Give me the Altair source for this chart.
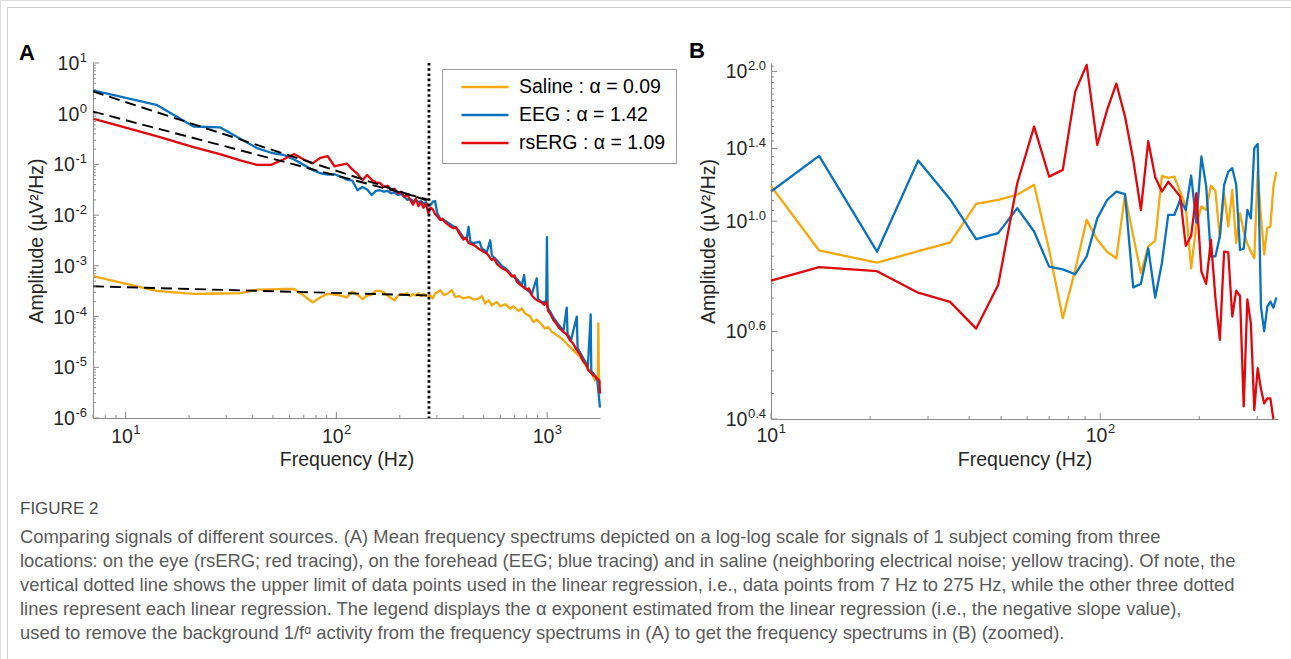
import altair as alt
import pandas as pd

FONT = "Liberation Sans"
TXT = "#262626"
AXC = "#8a8a8a"

# ---------------- series identity ----------------
names = ["Saline", "EEG", "rsERG"]
alphas = [0.09, 1.42, 1.09]
colors = ["#F6A80D", "#0A72BD", "#E0070D"]
line_w = [2.3, 2.3, 4.0]
labels = [f"{n} : α = {a:.2f}" for n, a in zip(names, alphas)]

# ---------------- Panel A : spectra (7 Hz bins up to 280 Hz) ----------------
a_bins = list(range(7, 281, 7))
a_saline_low = [6.3e-4, 3.2e-4, 2.8e-4, 2.85e-4, 2.9e-4, 3.4e-4, 3.45e-4, 3.5e-4, 3.5e-4, 2.6e-4,
                1.9e-4, 2.4e-4, 2.8e-4, 2.7e-4, 2.6e-4, 2.4e-4, 3.1e-4, 2.7e-4, 2.2e-4, 2.6e-4,
                2.7e-4, 3.2e-4, 3.2e-4, 3.0e-4, 2.6e-4, 2.3e-4, 2.1e-4, 2.6e-4, 2.8e-4, 2.7e-4,
                2.9e-4, 2.5e-4, 2.8e-4, 2.6e-4, 2.9e-4, 2.5e-4, 2.8e-4, 2.6e-4, 2.5e-4, 2.6e-4]
a_eeg_low = [2.9, 1.5, 0.56, 0.54, 0.32, 0.21, 0.17, 0.155, 0.125, 0.098,
             0.078, 0.067, 0.063, 0.064, 0.057, 0.050, 0.048, 0.031, 0.036, 0.032,
             0.025, 0.030, 0.031, 0.029, 0.030, 0.027, 0.028, 0.025, 0.026, 0.023,
             0.020, 0.021, 0.019, 0.020, 0.018, 0.019, 0.017, 0.018, 0.015, 0.016]
a_rserg_low = [0.80, 0.36, 0.22, 0.16, 0.12, 0.098, 0.098, 0.125, 0.16, 0.125,
               0.105, 0.135, 0.145, 0.092, 0.098, 0.104, 0.080, 0.065, 0.049, 0.062,
               0.050, 0.044, 0.043, 0.036, 0.038, 0.031, 0.033, 0.027, 0.029, 0.023,
               0.025, 0.020, 0.016, 0.021, 0.015, 0.018, 0.014, 0.017, 0.011, 0.014]

# above 280 Hz (selected readings)
a_saline_hf = [287, 294, 301, 311, 325, 337, 353, 366, 384, 401, 424, 447, 472, 490, 508, 527, 547, 577,
               599, 632, 668, 692, 731, 759, 787, 830, 861, 893, 933, 977, 1014, 1052, 1111, 1173, 1239,
               1333, 1433, 1541, 1629, 1688, 1740, 1750, 1762, 1782]
a_saline_hv = [2.3e-4, 2.84e-4, 3.0e-4, 3.31e-4, 2.64e-4, 2.84e-4, 3.31e-4, 2.45e-4, 2.52e-4, 2.27e-4,
               2.45e-4, 2.17e-4, 2.27e-4, 2.52e-4, 1.81e-4, 2.1e-4, 1.67e-4, 1.95e-4, 1.6e-4, 1.75e-4,
               1.44e-4, 1.6e-4, 1.29e-4, 1.44e-4, 1.15e-4, 1.01e-4, 7.8e-5, 8.7e-5, 7.3e-5, 5.8e-5,
               6.2e-5, 5.0e-5, 4.3e-5, 3.7e-5, 2.9e-5, 2.16e-5, 1.6e-5, 1.01e-5, 7.5e-6, 5.5e-6,
               6.0e-6, 7.3e-5, 5.5e-6, 4.7e-6]
a_eeg_hf = [287, 294, 301, 311, 328, 347, 360, 380, 401, 415, 424, 432, 447, 478, 490, 518, 537, 547, 577,
            610, 644, 680, 718, 759, 778, 790, 846, 893, 905, 950, 990, 998, 1006, 1040, 1072, 1132, 1195,
            1239, 1250, 1300, 1383, 1395, 1450, 1500, 1560, 1610, 1620, 1680, 1730, 1782]
a_eeg_hv = [0.0185, 0.019, 0.011, 0.0085, 0.0078, 0.0066, 0.0060, 0.0050, 0.0036, 0.0034,
            0.0059, 0.0030, 0.0028, 0.0030, 0.0022, 0.0019, 0.0032, 0.0016, 0.0013, 0.0010,
            8.5e-4, 6.5e-4, 5.5e-4, 4.3e-4, 6.6e-4, 3.6e-4, 2.8e-4, 5.7e-4, 2.2e-4, 1.9e-4,
            2.0e-4, 3.7e-3, 1.5e-4, 1.2e-4, 9.5e-5, 7.0e-5, 5.2e-5, 1.5e-4, 4.5e-5, 3.5e-5,
            1.0e-4, 2.4e-5, 1.8e-5, 1.4e-5, 1.0e-5, 1.1e-4, 8.5e-6, 7.0e-6, 5.5e-6, 1.6e-6]
a_rserg_hf = [287, 294, 301, 311, 318, 328, 347, 360, 370, 380, 401, 412, 424, 447, 460, 472, 499, 518,
              547, 560, 577, 610, 644, 680, 700, 718, 759, 801, 820, 846, 893, 943, 970, 996, 1010, 1033,
              1072, 1100, 1132, 1195, 1240, 1285, 1330, 1381, 1430, 1486, 1530, 1570, 1620, 1657, 1700,
              1740, 1770, 1782]
a_rserg_hv = [0.013, 0.0105, 0.0095, 0.0080, 0.0085, 0.0072, 0.0060, 0.0055, 0.0058, 0.0046,
              0.0033, 0.0036, 0.0028, 0.0026, 0.0024, 0.0022, 0.0019, 0.00175, 0.0013, 0.0014,
              0.0011, 9.0e-4, 8.0e-4, 6.2e-4, 6.5e-4, 4.9e-4, 4.0e-4, 3.4e-4, 3.6e-4, 2.6e-4,
              2.1e-4, 1.9e-4, 1.7e-4, 1.95e-4, 1.3e-4, 1.15e-4, 8.5e-5, 7.5e-5, 6.2e-5, 5.0e-5,
              4.4e-5, 3.4e-5, 2.9e-5, 2.2e-5, 1.8e-5, 1.3e-5, 1.15e-5, 8.7e-6, 7.8e-6, 6.9e-6,
              6.6e-6, 5.8e-6, 5.5e-6, 3.0e-6]

# regression lines (7 Hz -> 275 Hz) and the regression limit
fit_f = [7, 275]
fit_saline = [3.95e-4, 2.6e-4]
fit_eeg = [2.75, 0.019]
fit_rserg = [1.1, 0.020]
reg_limit = 275

# ---------------- Panel B : 1/f-removed spectra (exponent values) ----------------
b_f = [10] + list(range(14, 344, 7))
b_saline = [1.177, 0.873, 0.825, 0.870, 0.905, 1.083, 1.103, 1.130, 1.183, 0.875,
            0.638, 0.798, 1.006, 0.917, 0.868, 0.842, 1.130, 0.934, 0.786, 0.889,
            0.914, 1.233, 1.222, 1.229, 1.147, 1.070, 0.804, 0.983, 1.070, 1.053,
            1.178, 1.151, 0.924, 1.138, 0.975, 1.156, 0.903, 1.037, 0.953, 0.900,
            0.868, 0.842, 1.257, 1.021, 0.857, 0.970, 0.975, 1.174, 1.257]
b_eeg = [1.147, 1.353, 0.868, 1.324, 1.107, 0.920, 0.946, 1.062, 0.953, 0.810,
         0.800, 0.782, 0.849, 1.013, 1.103, 1.147, 1.133, 0.736, 0.748, 0.882,
         0.702, 0.823, 1.029, 1.029, 1.103, 1.053, 1.234, 0.993, 1.349, 1.174,
         0.849, 0.850, 0.931, 1.183, 1.257, 1.278, 1.183, 0.875, 0.880, 1.053,
         1.013, 1.402, 1.430, 0.673, 0.601, 0.673, 0.689, 0.670, 0.702]
b_rserg = [0.759, 0.808, 0.793, 0.718, 0.688, 0.608, 0.744, 1.192, 1.549, 1.229,
           1.268, 1.822, 2.062, 1.424, 1.674, 1.891, 1.623, 1.33, 1.053, 1.448,
           1.226, 1.147, 1.200, 1.16, 1.121, 0.892, 0.934, 1.138, 0.792, 0.748,
           0.917, 0.70, 0.577, 0.868, 0.865, 0.643, 0.725, 0.707, 0.424, 0.696,
           0.623, 0.417, 0.506, 0.46, 0.43, 0.44, 0.44, 0.40]

# ---------------- axis tick labels ----------------
ya_vals = [10, 1, 0.1, 0.01, 1e-3, 1e-4, 1e-5, 1e-6]
ya_exps = ["1", "0", "-1", "-2", "-3", "-4", "-5", "-6"]
xa_vals = [10, 100, 1000]
xa_exps = ["1", "2", "3"]
yb_vals = [2.0, 1.4, 1.0, 0.6, 0.4]
yb_exps = ["2.0", "1.4", "1.0", "0.6", "0.4"]
xb_vals = [10, 100]
xb_exps = ["1", "2"]

caption_title = "FIGURE 2"
caption_lines = [
    "Comparing signals of different sources. (A) Mean frequency spectrums depicted on a log-log scale for signals of 1 subject coming from three",
    "locations: on the eye (rsERG; red tracing), on the forehead (EEG; blue tracing) and in saline (neighboring electrical noise; yellow tracing). Of note, the",
    "vertical dotted line shows the upper limit of data points used in the linear regression, i.e., data points from 7 Hz to 275 Hz, while the other three dotted",
    "lines represent each linear regression. The legend displays the α exponent estimated from the linear regression (i.e., the negative slope value),",
    "used to remove the background 1/fᵅ activity from the frequency spectrums in (A) to get the frequency spectrums in (B) (zoomed).",
]

# ====================================================================
BASE_FS = 19.5
EXP_FS = 13
CW = {"-": 0.333, ".": 0.278}


def exp_width(s, fs=EXP_FS):
    return sum(CW.get(c, 0.556) for c in s) * fs


color_scale = alt.Scale(domain=labels, range=colors)
sw_scale = alt.Scale(domain=labels, range=line_w)
leg = alt.Legend(orient="none", legendX=442, legendY=69, title=None, direction="vertical",
                 labelFont=FONT, labelFontSize=BASE_FS, labelColor="black", labelLimit=400,
                 symbolType="stroke", symbolSize=2209, symbolOffset=8, labelOffset=9,
                 padding=10, strokeColor="#9a9a9a", fillColor="white", rowPadding=8,
                 clipHeight=16, cornerRadius=0)


def make_panel(series_frames, xs, ys, xax, yax, extra_layers_fn):
    layers = []
    for df in series_frames:
        layers.append(
            alt.Chart(df).mark_line(strokeJoin="round", strokeCap="butt").encode(
                x=alt.X("f:Q", scale=xs, axis=xax),
                y=alt.Y("a:Q", scale=ys, axis=yax),
                color=alt.Color("series:N", scale=color_scale, legend=leg),
                strokeWidth=alt.StrokeWidth("series:N", scale=sw_scale, legend=leg),
            )
        )
    layers += extra_layers_fn(xs, ys, xax, yax)
    return alt.layer(*layers)


def tick_layers(xs, ys, xax, yax, xmaj, xmin, ymaj, ymin, x0, y0):
    out = []
    for vals, ln in ((ymaj, 6), (ymin, 3)):
        out.append(alt.Chart(pd.DataFrame({"a": vals})).mark_rule(color=AXC, strokeWidth=1).encode(
            y=alt.Y("a:Q", scale=ys, axis=yax), x=alt.value(x0), x2=alt.value(x0 + ln)))
    for vals, ln in ((xmaj, 6), (xmin, 3)):
        out.append(alt.Chart(pd.DataFrame({"f": vals})).mark_rule(color=AXC, strokeWidth=1).encode(
            x=alt.X("f:Q", scale=xs, axis=xax), y=alt.value(y0), y2=alt.value(y0 - ln)))
    return out


def label_layers(xs, ys, xax, yax, yvals, yexps, y_right, xvals, xexps, x_base_y, x_exp_y):
    out = []
    dfy = pd.DataFrame({"a": yvals, "exp": yexps, "base": ["10"] * len(yvals),
                        "n": [len(e) for e in yexps]})
    for n in sorted(set(dfy["n"])):
        sample = [e for e in yexps if len(e) == n][0]
        w = exp_width(sample)
        out.append(alt.Chart(dfy).transform_filter(alt.datum.n == n).mark_text(
            align="right", baseline="alphabetic", font=FONT, fontSize=BASE_FS, color=TXT, dy=7).encode(
            y=alt.Y("a:Q", scale=ys, axis=yax), x=alt.value(y_right - w - 0.5), text="base:N"))
    out.append(alt.Chart(dfy).mark_text(
        align="right", baseline="alphabetic", font=FONT, fontSize=EXP_FS, color=TXT, dy=-1).encode(
        y=alt.Y("a:Q", scale=ys, axis=yax), x=alt.value(y_right), text="exp:N"))
    dfx = pd.DataFrame({"f": xvals, "exp": xexps, "base": ["10"] * len(xvals)})
    w = exp_width(xexps[0])
    bw = 2 * 0.556 * BASE_FS
    shift = (bw + w) / 2 - w
    out.append(alt.Chart(dfx).mark_text(
        align="right", baseline="alphabetic", font=FONT, fontSize=BASE_FS, color=TXT, dx=shift).encode(
        x=alt.X("f:Q", scale=xs, axis=xax), y=alt.value(x_base_y), text="base:N"))
    out.append(alt.Chart(dfx).mark_text(
        align="left", baseline="alphabetic", font=FONT, fontSize=EXP_FS, color=TXT, dx=shift + 0.5).encode(
        x=alt.X("f:Q", scale=xs, axis=xax), y=alt.value(x_exp_y), text="exp:N"))
    return out


def axis(orient, offset, title, tx=None, ty=None):
    kw = dict(orient=orient, offset=offset, labels=False, ticks=False, grid=False,
              domainColor=AXC, domainWidth=1, title=title, titleFont=FONT,
              titleFontSize=BASE_FS, titleFontWeight="normal", titleColor=TXT,
              titleBaseline="alphabetic")
    if tx is not None:
        kw["titleX"] = tx
        kw["titleAngle"] = 270
    if ty is not None:
        kw["titleY"] = ty
    return alt.Axis(**kw)


W, H = 1291, 659

# ---------------- Panel A ----------------
A_X0, A_X1, A_Y0, A_Y1 = 93, 600, 63, 418
xA = alt.Scale(type="log", domain=[7, 1782], range=[A_X0, A_X1], nice=False)
yA = alt.Scale(type="log", domain=[1e-6, 10], range=[A_Y1, A_Y0], nice=False)
axA_x = axis("bottom", A_Y1 - H, "Frequency (Hz)", ty=47)
axA_y = axis("left", -A_X0, "Amplitude (µV²/Hz)", tx=-51)

dfA = []
for lab, lo, hf, hv in ((labels[0], a_saline_low, a_saline_hf, a_saline_hv),
                        (labels[1], a_eeg_low, a_eeg_hf, a_eeg_hv),
                        (labels[2], a_rserg_low, a_rserg_hf, a_rserg_hv)):
    dfA.append(pd.DataFrame({"f": a_bins + hf, "a": lo + hv, "series": lab}))

fit_df = pd.concat([pd.DataFrame({"f": fit_f, "a": v, "fit": n})
                    for n, v in zip(names, (fit_saline, fit_eeg, fit_rserg))])

a_xmaj = [10, 100, 1000]
a_xmin = [m * 10 ** k for k in range(0, 4) for m in range(2, 10) if 7 <= m * 10 ** k <= 1782]
a_ymaj = ya_vals
a_ymin = [m * 10.0 ** k for k in range(-6, 1) for m in range(2, 10)]


def extras_A(xs, ys, xax, yax):
    out = [
        alt.Chart(fit_df).mark_line(color="black", strokeDash=[11, 6], strokeWidth=1.9).encode(
            x=alt.X("f:Q", scale=xs, axis=xax), y=alt.Y("a:Q", scale=ys, axis=yax), detail="fit:N"),
        alt.Chart(pd.DataFrame({"f": [reg_limit], "a": [10], "a2": [1e-6]})).mark_rule(
            color="black", strokeWidth=2.8, strokeDash=[2.6, 2.6]).encode(
            x=alt.X("f:Q", scale=xs, axis=xax), y=alt.Y("a:Q", scale=ys, axis=yax), y2="a2:Q"),
    ]
    out += tick_layers(xs, ys, xax, yax, a_xmaj, a_xmin, a_ymaj, a_ymin, A_X0, A_Y1)
    out += label_layers(xs, ys, xax, yax, ya_vals, ya_exps, 87, xa_vals, xa_exps, 443, 434)
    return out


panelA = make_panel(dfA, xA, yA, axA_x, axA_y, extras_A)

# ---------------- Panel B ----------------
B_X0, B_X1, B_Y0, B_Y1 = 771, 1278, 63, 419
xB = alt.Scale(type="log", domain=[10, 347], range=[B_X0, B_X1], nice=False)
yB = alt.Scale(type="log", domain=[0.4, 2.08], range=[B_Y1, B_Y0], nice=False)
axB_x = axis("bottom", B_Y1 - H, "Frequency (Hz)", ty=46)
axB_y = axis("left", -B_X0, "Amplitude (µV²/Hz)", tx=-57)

dfB = [pd.DataFrame({"f": b_f[:len(v)], "a": v, "series": lab})
       for lab, v in zip(labels, (b_saline, b_eeg, b_rserg))]

b_xmaj = [10, 100]
b_xmin = [20, 30, 40, 50, 60, 70, 80, 90, 200, 300]
b_ymaj = yb_vals
b_ymin = [round(0.4 + 0.05 * i, 2) for i in range(1, 34)]
b_ymin = [v for v in b_ymin if v not in b_ymaj and v <= 2.08]


def extras_B(xs, ys, xax, yax):
    out = tick_layers(xs, ys, xax, yax, b_xmaj, b_xmin, b_ymaj, b_ymin, B_X0, B_Y1)
    out += label_layers(xs, ys, xax, yax, yb_vals, yb_exps, 766, xb_vals, xb_exps, 442, 433)
    return out


panelB = make_panel(dfB, xB, yB, axB_x, axB_y, extras_B)

# ---------------- decorations: panel letters, caption, frame ----------------
one = pd.DataFrame({"k": [0]})
letters = alt.layer(
    alt.Chart(one).mark_text(text="A", align="left", baseline="alphabetic", font=FONT, fontSize=22,
                             fontWeight="bold", color="black").encode(x=alt.value(19), y=alt.value(60)),
    alt.Chart(one).mark_text(text="B", align="left", baseline="alphabetic", font=FONT, fontSize=22,
                             fontWeight="bold", color="black").encode(x=alt.value(689), y=alt.value(58)),
)

cap_df = pd.DataFrame({"t": caption_lines, "i": list(range(len(caption_lines)))})
caption = alt.layer(
    alt.Chart(one).mark_text(text=caption_title, align="left", baseline="alphabetic", font=FONT,
                             fontSize=17, color="#4a4a4a").encode(x=alt.value(20), y=alt.value(514)),
    alt.Chart(cap_df).transform_calculate(py="543 + 24 * datum.i").mark_text(
        align="left", baseline="alphabetic", font=FONT, fontSize=18.4, color="#5a5a5a").encode(
        x=alt.value(20), y=alt.Y("py:Q", scale=None), text="t:N"),
)

frame = alt.layer(
    alt.Chart(one).mark_rule(color="#cfcfcf", strokeWidth=1).encode(
        x=alt.value(7), x2=alt.value(W), y=alt.value(7.5)),
    alt.Chart(one).mark_rule(color="#cfcfcf", strokeWidth=1).encode(
        x=alt.value(7.5), y=alt.value(7), y2=alt.value(H)),
)

chart = alt.layer(frame, panelA, panelB, letters, caption).resolve_scale(
    x="independent", y="independent"
).properties(
    width=W, height=H, padding=0, autosize=alt.AutoSizeParams(type="none")
).configure_view(strokeWidth=0).configure(font=FONT)

chart.save("out.html", embed_options={"renderer": "svg", "actions": False})
